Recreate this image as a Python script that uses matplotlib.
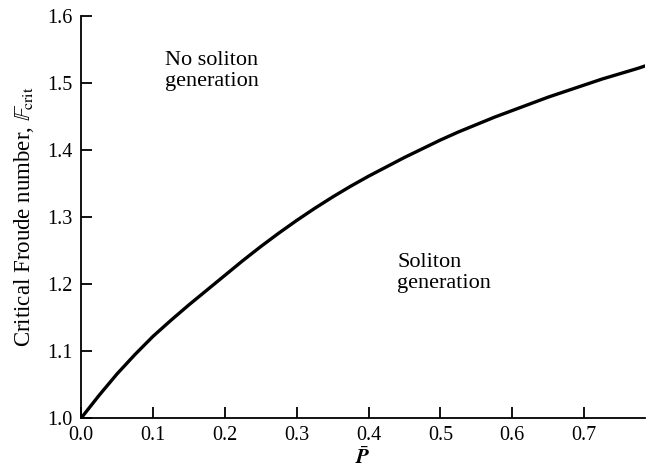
import matplotlib
matplotlib.use("Agg")
import matplotlib.pyplot as plt

plt.rcParams['font.family'] = ['Liberation Serif', 'DejaVu Serif']
plt.rcParams['mathtext.fontset'] = 'stix'

p_bar = [0.0, 0.025, 0.05, 0.075, 0.10, 0.125, 0.15, 0.175, 0.20, 0.225, 0.25, 0.275,
         0.30, 0.325, 0.35, 0.375, 0.40, 0.425, 0.45, 0.475, 0.50, 0.525, 0.55, 0.575,
         0.60, 0.625, 0.65, 0.675, 0.70, 0.725, 0.75, 0.775, 0.789]
f_crit = [1.000, 1.034, 1.066, 1.095, 1.122, 1.146, 1.169, 1.191, 1.213, 1.235, 1.256, 1.276,
          1.295, 1.313, 1.330, 1.346, 1.361, 1.375, 1.389, 1.402, 1.415, 1.427, 1.438, 1.449,
          1.459, 1.469, 1.479, 1.488, 1.497, 1.506, 1.514, 1.522, 1.527]

x_ticks = [0.0, 0.1, 0.2, 0.3, 0.4, 0.5, 0.6, 0.7]
y_ticks = [1.0, 1.1, 1.2, 1.3, 1.4, 1.5, 1.6]

fig = plt.figure(figsize=(6.49, 4.73), dpi=100)
ax = fig.add_axes([0.125, 0.116, 0.869, 0.850])
ax.plot(p_bar, f_crit, color='black', lw=2.4, solid_capstyle='round', solid_joinstyle='round')

ax.set_xlim(0, 0.785)
ax.set_ylim(1.0, 1.6)
ax.set_xticks(x_ticks)
ax.set_xticklabels([f"{v:.1f}" for v in x_ticks])
ax.set_yticks(y_ticks)
ax.set_yticklabels([f"{v:.1f}" for v in y_ticks])
ax.tick_params(direction='in', length=8, width=1.3, labelsize=14.5, pad=6)
for s in ['top', 'right']:
    ax.spines[s].set_visible(False)
for s in ['left', 'bottom']:
    ax.spines[s].set_linewidth(1.3)

ax.set_xlabel(r'$\bar{\mathbfit{P}}$', fontsize=15, labelpad=1)
ax.set_ylabel(r'Critical Froude number, $\mathbb{F}_{\rm crit}$', fontsize=16.5, labelpad=8)

ax.text(0.117, 1.548, 'No soliton\ngeneration', fontsize=16, va='top', ha='left', linespacing=1.15)
ax.text(0.44, 1.246, 'Soliton\ngeneration', fontsize=16, va='top', ha='left', linespacing=1.15)

fig.savefig('out.png', dpi=100)
